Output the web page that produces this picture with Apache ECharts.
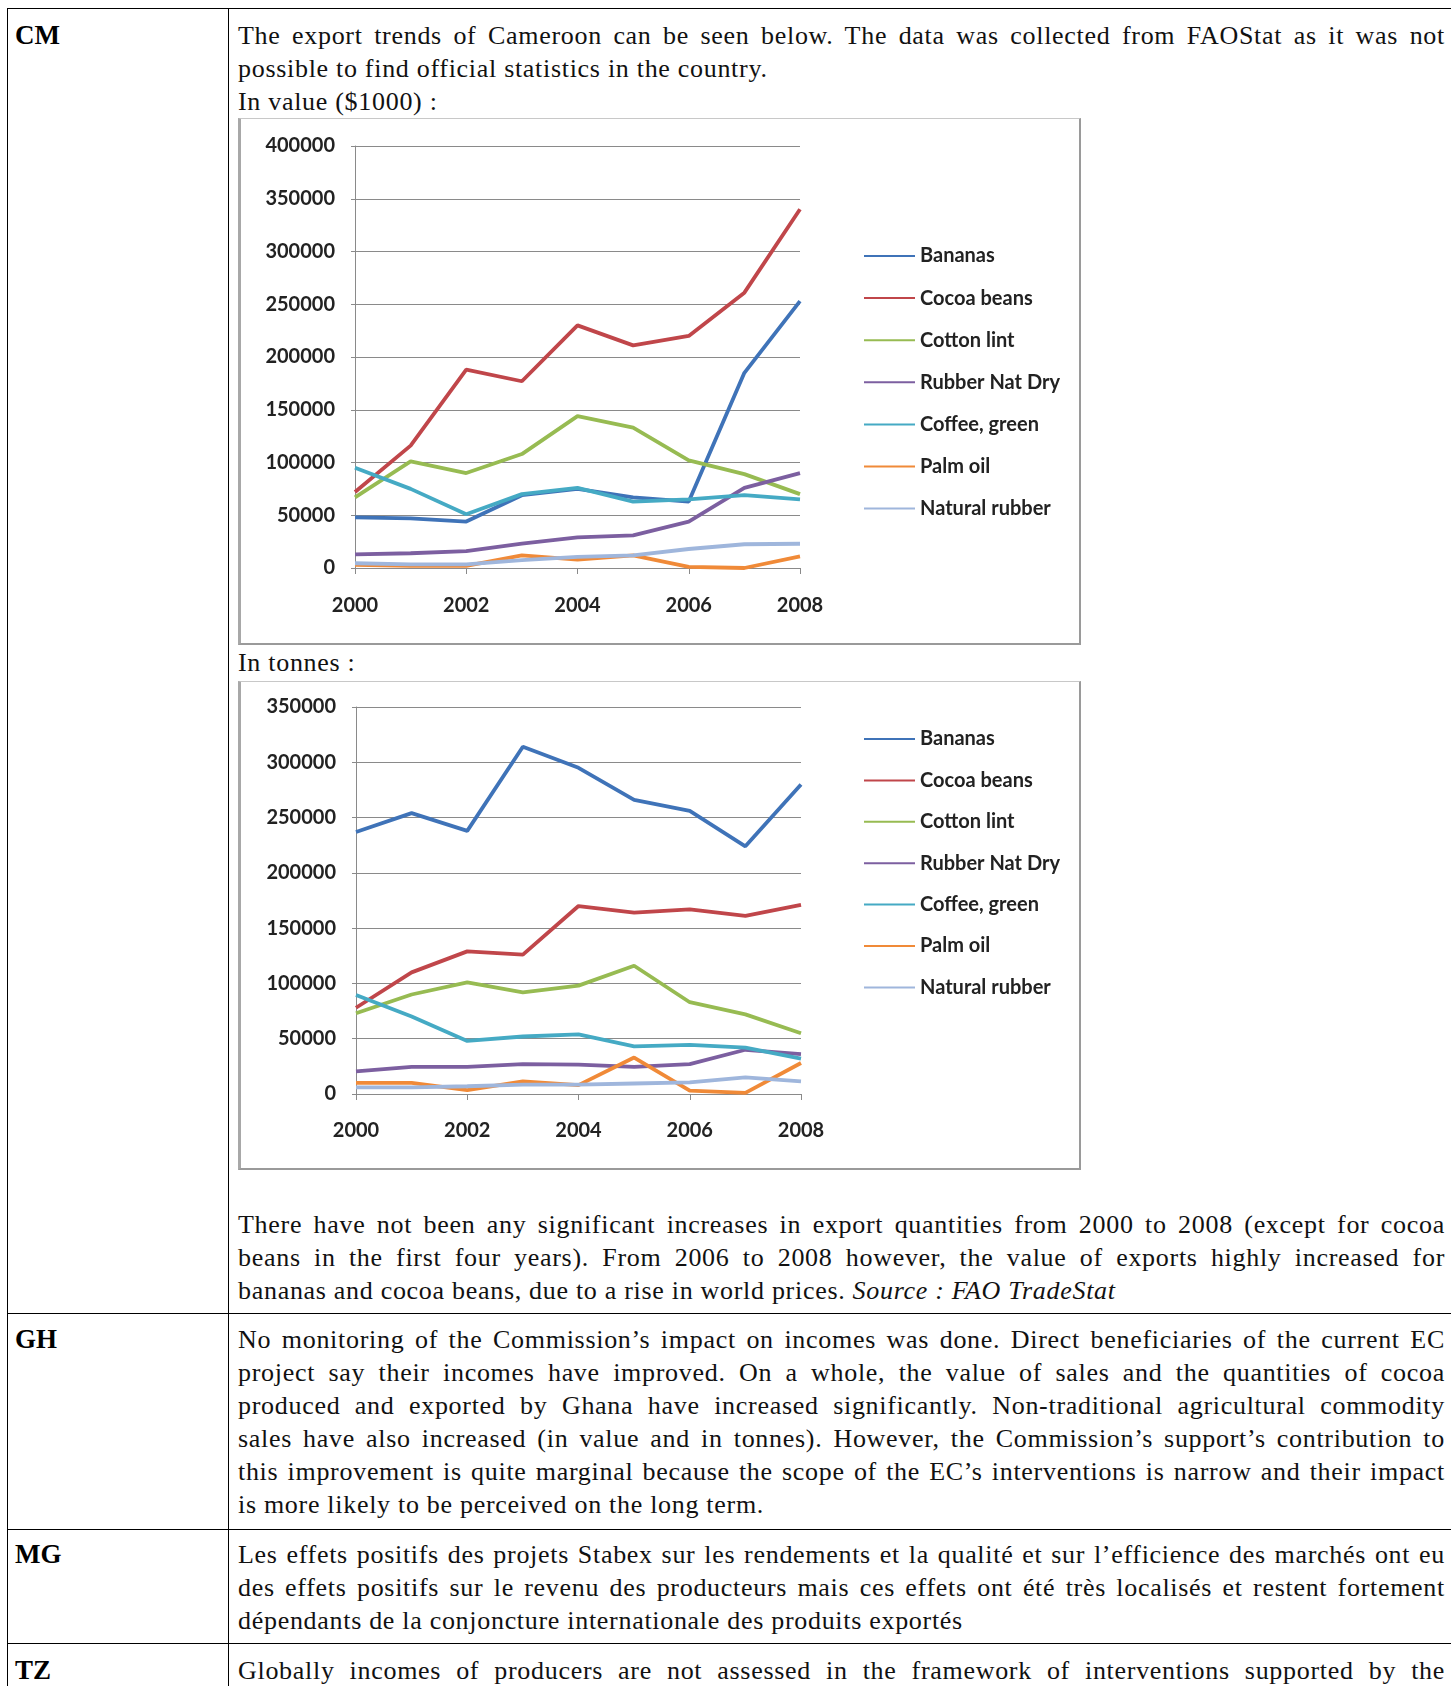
<!DOCTYPE html>
<html><head><meta charset="utf-8">
<script src="https://cdn.jsdelivr.net/npm/echarts@6/dist/echarts.min.js"></script>
<style>
html,body{margin:0;padding:0;background:#fff;}
body{width:1451px;height:1686px;position:relative;overflow:hidden;}
.ln{position:absolute;left:238px;width:1207px;height:33px;line-height:33px;font-family:"Liberation Serif",serif;font-size:26px;letter-spacing:0.7px;color:#111;overflow:visible;}
.j{text-align:justify;text-align-last:justify;}
.lab{position:absolute;left:15px;height:33px;line-height:33px;font-family:"Liberation Serif",serif;font-size:27px;font-weight:bold;color:#000;}
.hb{position:absolute;left:7px;width:1444px;height:0;border-top:1.5px solid #000;}
.vb{position:absolute;top:9px;height:1686px;width:0;border-left:1.5px solid #000;}
.chartbox{position:absolute;left:238px;width:843px;box-sizing:border-box;border-top:1px solid #c8c8c8;border-left:3px solid #a8a8a8;border-right:2px solid #9a9a9a;border-bottom:2px solid #9a9a9a;background:#fff;}
.chart{position:absolute;left:0;top:0;}
</style>
</head><body>
<div class="hb" style="top:8px"></div>
<div class="hb" style="top:1313px"></div>
<div class="hb" style="top:1529px"></div>
<div class="hb" style="top:1643px"></div>
<div class="vb" style="left:7px"></div>
<div class="vb" style="left:228px"></div>

<div class="lab" style="top:19px">CM</div>
<div class="ln j" style="top:19px">The export trends of Cameroon can be seen below. The data was collected from FAOStat as it was not</div>
<div class="ln" style="top:52px">possible to find official statistics in the country.</div>
<div class="ln" style="top:85px">In value ($1000) :</div>
<div class="chartbox" style="top:118px;height:527px"><div id="c1" class="chart" style="width:838px;height:524px"></div></div>
<div class="ln" style="top:646px">In tonnes :</div>
<div class="chartbox" style="top:681px;height:489px"><div id="c2" class="chart" style="width:838px;height:486px"></div></div>
<div class="ln j" style="top:1208px">There have not been any significant increases in export quantities from 2000 to 2008 (except for cocoa</div>
<div class="ln j" style="top:1241px">beans in the first four years). From 2006 to 2008 however, the value of exports highly increased for</div>
<div class="ln" style="top:1274px">bananas and cocoa beans, due to a rise in world prices. <i>Source : FAO TradeStat</i></div>

<div class="lab" style="top:1323px">GH</div>
<div class="ln j" style="top:1323px">No monitoring of the Commission’s impact on incomes was done. Direct beneficiaries of the current EC</div>
<div class="ln j" style="top:1356px">project say their incomes have improved. On a whole, the value of sales and the quantities of cocoa</div>
<div class="ln j" style="top:1389px">produced and exported by Ghana have increased significantly. Non-traditional agricultural commodity</div>
<div class="ln j" style="top:1422px">sales have also increased (in value and in tonnes). However, the Commission’s support’s contribution to</div>
<div class="ln j" style="top:1455px">this improvement is quite marginal because the scope of the EC’s interventions is narrow and their impact</div>
<div class="ln" style="top:1488px">is more likely to be perceived on the long term.</div>

<div class="lab" style="top:1538px">MG</div>
<div class="ln j" style="top:1538px">Les effets positifs des projets Stabex sur les rendements et la qualité et sur l’efficience des marchés ont eu</div>
<div class="ln j" style="top:1571px">des effets positifs sur le revenu des producteurs mais ces effets ont été très localisés et restent fortement</div>
<div class="ln" style="top:1604px">dépendants de la conjoncture internationale des produits exportés</div>

<div class="lab" style="top:1654px">TZ</div>
<div class="ln j" style="top:1654px">Globally incomes of producers are not assessed in the framework of interventions supported by the</div>

<script>
// keep every justified line on one line: shrink letter-spacing if its natural width is too wide
document.querySelectorAll('.ln.j').forEach(el => {
  el.style.whiteSpace = 'nowrap';
  el.style.textAlignLast = 'left';
  el.style.textAlign = 'left';
  let ls = 0.7;
  const span = document.createElement('span');
  while (el.firstChild) span.appendChild(el.firstChild);
  el.appendChild(span);
  while (span.getBoundingClientRect().width > 1205 && ls > -1.5) {
    ls -= 0.1;
    el.style.letterSpacing = ls + 'px';
  }
  el.style.whiteSpace = 'normal';
  el.style.textAlign = 'justify';
  el.style.textAlignLast = 'justify';
});

// ---- data ----
const years = ['2000','2001','2002','2003','2004','2005','2006','2007','2008'];
const seriesNames = ['Bananas','Cocoa beans','Cotton lint','Rubber Nat Dry','Coffee, green','Palm oil','Natural rubber'];
const seriesColors = ['#3f73b8','#c0464a','#97bb52','#7c5fa0','#45aac4','#f08a38','#9fb6dc'];

// In value ($1000)
const valueTicks = [0,50000,100000,150000,200000,250000,300000,350000,400000];
const valueBananas      = [48000, 47000, 44000, 69000, 75000, 67000, 63000, 185000, 253000];
const valueCocoaBeans   = [72000, 116000, 188000, 177000, 230000, 211000, 220000, 261000, 340000];
const valueCottonLint   = [67000, 101000, 90000, 108000, 144000, 133000, 102000, 89000, 70000];
const valueRubberNatDry = [13000, 14000, 16000, 23000, 29000, 31000, 44000, 76000, 90000];
const valueCoffeeGreen  = [95000, 75000, 51000, 70000, 76000, 63000, 65000, 69000, 65000];
const valuePalmOil      = [3000, 2000, 2000, 12000, 8000, 12000, 1000, 0, 11000];
const valueNatRubber    = [4500, 3500, 3500, 7500, 10500, 12000, 18000, 22500, 23000];

// In tonnes
const tonneTicks = [0,50000,100000,150000,200000,250000,300000,350000];
const tonneBananas      = [237000, 254000, 238000, 314000, 295000, 266000, 256000, 224000, 280000];
const tonneCocoaBeans   = [78000, 110000, 129000, 126000, 170000, 164000, 167000, 161000, 171000];
const tonneCottonLint   = [73000, 90000, 101000, 92000, 98000, 116000, 83000, 72000, 55000];
const tonneRubberNatDry = [20500, 24500, 24500, 27000, 26500, 24500, 27000, 40000, 36000];
const tonneCoffeeGreen  = [89500, 70000, 48000, 52000, 54000, 43000, 44500, 42000, 32000];
const tonnePalmOil      = [10000, 10000, 3500, 11500, 8000, 33000, 3000, 1000, 28000];
const tonneNatRubber    = [6000, 6000, 7000, 8500, 8500, 9500, 10500, 15000, 11500];

const valueSeries = [valueBananas, valueCocoaBeans, valueCottonLint, valueRubberNatDry, valueCoffeeGreen, valuePalmOil, valueNatRubber];
const tonneSeries = [tonneBananas, tonneCocoaBeans, tonneCottonLint, tonneRubberNatDry, tonneCoffeeGreen, tonnePalmOil, tonneNatRubber];

const FONT = 'Lato';
function buildOption(dataSets, ticks, grid, legendTop, legendGap, xMargin) {
  const maxV = ticks[ticks.length - 1];
  return {
    animation: false,
    color: seriesColors,
    grid: grid,
    legend: {
      orient: 'vertical', left: 618, top: legendTop,
      itemWidth: 51, itemHeight: 20, itemGap: legendGap,
      itemStyle: {borderWidth: 0},
      data: seriesNames.map(n => ({name: n, icon: 'path://M0,9 L51,9 L51,11 L0,11 Z'})),
      textStyle: {fontFamily: FONT, fontWeight: 'bold', fontSize: 20, color: '#222', lineHeight: 20}
    },
    xAxis: {
      type: 'category', data: years, boundaryGap: false,
      axisLine: {lineStyle: {color: '#8a8a8a', width: 1}},
      axisTick: {show: true, interval: 1, length: 6, lineStyle: {color: '#8a8a8a'}},
      axisLabel: {interval: 1, margin: xMargin, fontFamily: FONT, fontWeight: 'bold', fontSize: 20, color: '#222'},
      splitLine: {show: false}
    },
    yAxis: {
      type: 'value', min: 0, max: maxV, interval: 50000,
      axisLine: {show: true, lineStyle: {color: '#8a8a8a', width: 1}},
      axisTick: {show: true, length: 4, lineStyle: {color: '#8a8a8a'}},
      axisLabel: {margin: 20, fontFamily: FONT, fontWeight: 'bold', fontSize: 20, color: '#222', formatter: v => String(v)},
      splitLine: {show: true, lineStyle: {color: '#8a8a8a', width: 1}}
    },
    series: dataSets.map((d, i) => ({
      name: seriesNames[i], type: 'line', data: d, symbol: 'none',
      lineStyle: {width: 3.8, color: seriesColors[i]},
      itemStyle: {color: seriesColors[i]}
    }))
  };
}

const c1 = echarts.init(document.getElementById('c1'), null, {renderer: 'canvas'});
c1.setOption(buildOption(valueSeries, valueTicks, {left: 114, right: 279, top: 27, bottom: 75}, 122, 22.1, 28));
const c2 = echarts.init(document.getElementById('c2'), null, {renderer: 'canvas'});
c2.setOption(buildOption(tonneSeries, tonneTicks, {left: 115, right: 278, top: 25, bottom: 74}, 42, 21.4, 27));
</script>
</body></html>
